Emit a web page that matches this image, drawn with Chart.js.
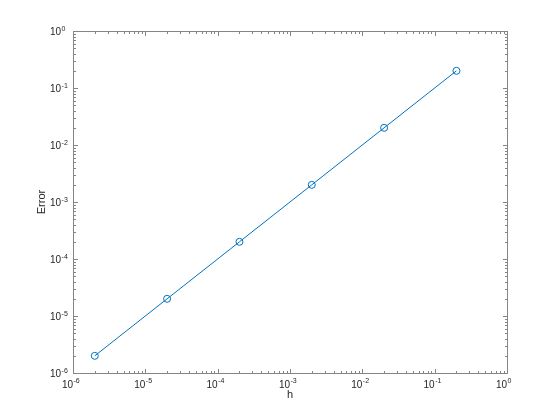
<!DOCTYPE html>
<html>
<head>
<meta charset="utf-8">
<title>Error vs h</title>
<script src="https://cdn.jsdelivr.net/npm/chart.js@4.4.1/dist/chart.umd.min.js"></script>
<style>
    html, body {
        margin: 0;
        padding: 0;
        background: #ffffff;
    }
    .chart-container {
        width: 560px;
        height: 420px;
    }
</style>
</head>
<body>
<div class="chart-container">
    <canvas id="error-chart" width="560" height="420"></canvas>
</div>
<script>
// step sizes and the matching errors
const hValues = [2e-6, 2e-5, 2e-4, 2e-3, 2e-2, 2e-1];
const errorValues = [2e-6, 2e-5, 2e-4, 2e-3, 2e-2, 2e-1];

// decade exponents used for tick labels
const xTickExponents = [-6, -5, -4, -3, -2, -1, 0];
const yTickExponents = [-6, -5, -4, -3, -2, -1, 0];

const xLabel = 'h';
const yLabel = 'Error';

const fontFamily = '"Liberation Sans", Arial, Helvetica, sans-serif';
const textColor = '#262626';
const boxColor = '#858585';
const lineColor = '#0072BD';

function tickValues(exponents) {
    const major = [];
    const minor = [];
    exponents.forEach((exp, i) => {
        major.push(Math.pow(10, exp));
        if (i < exponents.length - 1) {
            for (let k = 2; k <= 9; k++) {
                minor.push(k * Math.pow(10, exp));
            }
        }
    });
    return { major, minor };
}

const matlabAxes = {
    id: 'matlabAxes',
    afterDatasetsDraw(chart) {
        const ctx = chart.ctx;
        const area = chart.chartArea;
        const xScale = chart.scales.x;
        const yScale = chart.scales.y;

        const left = Math.round(area.left) + 0.5;
        const right = Math.round(area.right) + 0.5;
        const top = Math.round(area.top) + 0.5;
        const bottom = Math.round(area.bottom) + 0.5;

        ctx.save();
        ctx.strokeStyle = boxColor;
        ctx.lineWidth = 1;

        // box
        ctx.strokeRect(left, top, right - left, bottom - top);

        // ticks on all four sides, pointing inwards
        const majorLen = 4.5;
        const minorLen = 2.5;
        const xTicks = tickValues(xTickExponents);
        const yTicks = tickValues(yTickExponents);

        ctx.beginPath();
        const drawX = (values, len) => {
            values.forEach((v) => {
                const px = Math.round(xScale.getPixelForValue(v)) + 0.5;
                ctx.moveTo(px, bottom);
                ctx.lineTo(px, bottom - len);
                ctx.moveTo(px, top);
                ctx.lineTo(px, top + len);
            });
        };
        const drawY = (values, len) => {
            values.forEach((v) => {
                const py = Math.round(yScale.getPixelForValue(v)) + 0.5;
                ctx.moveTo(left, py);
                ctx.lineTo(left + len, py);
                ctx.moveTo(right, py);
                ctx.lineTo(right - len, py);
            });
        };
        drawX(xTicks.major, majorLen);
        drawX(xTicks.minor, minorLen);
        drawY(yTicks.major, majorLen);
        drawY(yTicks.minor, minorLen);
        ctx.stroke();

        // tick labels 10^n
        ctx.fillStyle = textColor;
        ctx.textBaseline = 'alphabetic';
        xTickExponents.forEach((exp) => {
            const px = xScale.getPixelForValue(Math.pow(10, exp));
            ctx.font = `10px ${fontFamily}`;
            ctx.textAlign = 'right';
            ctx.fillText('10', px, bottom + 14.5);
            ctx.font = `7px ${fontFamily}`;
            ctx.textAlign = 'left';
            ctx.fillText(String(exp), px + 0.5, bottom + 9.5);
        });
        yTickExponents.forEach((exp) => {
            const py = yScale.getPixelForValue(Math.pow(10, exp));
            ctx.font = `10px ${fontFamily}`;
            ctx.textAlign = 'left';
            ctx.fillText('10', 50, py + 4);
            const w = ctx.measureText('10').width;
            ctx.font = `7px ${fontFamily}`;
            ctx.fillText(String(exp), 50 + w + 0.5, py);
        });

        // axis labels
        ctx.font = `11px ${fontFamily}`;
        ctx.textAlign = 'center';
        ctx.fillText(xLabel, (area.left + area.right) / 2, 398);

        ctx.translate(45, (area.top + area.bottom) / 2);
        ctx.rotate(-Math.PI / 2);
        ctx.fillText(yLabel, 0, 0);
        ctx.restore();
    }
};

const ctx = document.getElementById('error-chart').getContext('2d');
const errorChart = new Chart(ctx, {
    type: 'scatter',
    data: {
        datasets: [{
            label: 'Error',
            data: hValues.map((h, i) => ({ x: h, y: errorValues[i] })),
            showLine: true,
            borderColor: lineColor,
            backgroundColor: 'rgba(0, 0, 0, 0)',
            borderWidth: 1,
            pointRadius: 3.5,
            pointBorderWidth: 1,
            pointBorderColor: lineColor,
            pointBackgroundColor: 'rgba(0, 0, 0, 0)',
            pointStyle: 'circle'
        }]
    },
    options: {
        responsive: false,
        animation: false,
        layout: {
            padding: { left: 73, right: 53, top: 31, bottom: 47 }
        },
        plugins: {
            legend: { display: false },
            tooltip: { enabled: false },
            title: { display: false }
        },
        scales: {
            x: {
                type: 'logarithmic',
                min: 1e-6,
                max: 1,
                display: false
            },
            y: {
                type: 'logarithmic',
                min: 1e-6,
                max: 1,
                display: false
            }
        }
    },
    plugins: [matlabAxes]
});
</script>
</body>
</html>
